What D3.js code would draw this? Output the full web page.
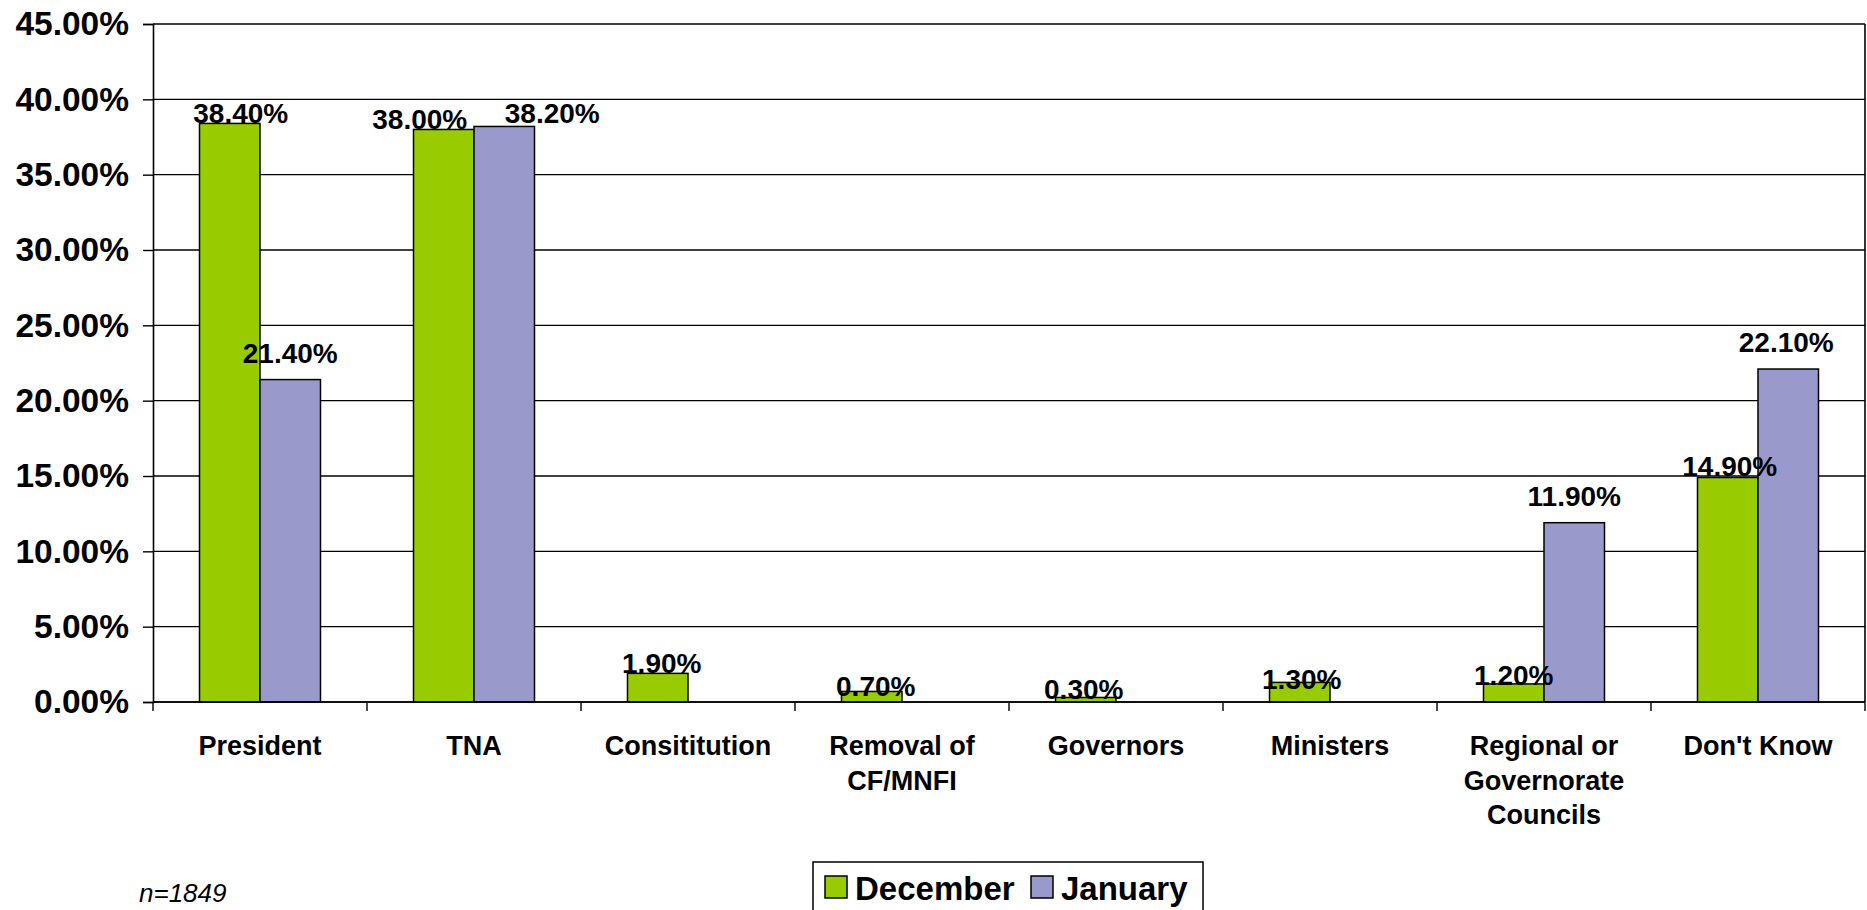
<!DOCTYPE html>
<html>
<head>
<meta charset="utf-8">
<script src="https://cdn.jsdelivr.net/npm/d3@7"></script>
<style>
  html, body { margin: 0; padding: 0; background: #fff; }
  svg { display: block; font-family: "Liberation Sans", Arial, sans-serif; }
</style>
</head>
<body>
<svg id="chart" width="1867" height="910"></svg>
<script>
// ---- data ----
const categories = ["President", "TNA", "Consititution", "Removal of CF/MNFI", "Governors", "Ministers", "Regional or Governorate Councils", "Don't Know"];
const seriesNames = ["December", "January"];
const december = [38.4, 38.0, 1.9, 0.7, 0.3, 1.3, 1.2, 14.9];
const january = [21.4, 38.2, null, null, null, null, 11.9, 22.1];
const yTicks = [0, 5, 10, 15, 20, 25, 30, 35, 40, 45];
const noteText = "n=1849";

// ---- layout / style ----
const colors = { December: "#99CC00", January: "#9999CC" };
const plot = { left: 153, top: 24, right: 1865, bottom: 702 };
// manual label nudges (dx, dy from bar top) as placed in the original
const nudgeDec = [[11, 0], [-24, 0], [4, 0], [4, 5], [-2, 1.5], [2, 7], [0, 1], [2, -2]];
const nudgeJan = [[0, -17], [48, -3], null, null, null, null, [0, -17], [-2, -17]];

const svg = d3.select("#chart");

const x0 = d3.scaleBand().domain(categories).range([plot.left, plot.right]).padding(0);
const x1 = d3.scaleBand().domain(seriesNames).range([0, x0.bandwidth()]).paddingInner(0).paddingOuter(0.7686);
const y = d3.scaleLinear().domain([0, 45]).range([plot.bottom, plot.top]);

// gridlines
svg.append("g").selectAll("line").data(yTicks).join("line")
  .attr("x1", plot.left).attr("x2", plot.right)
  .attr("y1", d => y(d)).attr("y2", d => y(d))
  .attr("stroke", "#000").attr("stroke-width", 1.4);

// right border
svg.append("line")
  .attr("x1", plot.right).attr("x2", plot.right)
  .attr("y1", plot.top).attr("y2", plot.bottom)
  .attr("stroke", "#000").attr("stroke-width", 1.6);

// y axis
const yAxis = d3.axisLeft(y).tickValues(yTicks).tickSize(10).tickPadding(14)
  .tickFormat(d => d3.format(".2f")(d) + "%");
const gy = svg.append("g").attr("transform", `translate(${plot.left},0)`).call(yAxis);
gy.select(".domain").attr("stroke", "#000").attr("stroke-width", 1.6);
gy.selectAll(".tick line").attr("stroke", "#000").attr("stroke-width", 1.4);
gy.selectAll(".tick text").attr("font-size", 33.5).attr("font-weight", "bold")
  .attr("font-family", "Liberation Sans, Arial, sans-serif").attr("fill", "#000");

// bars
const rows = categories.map((c, i) => ({ c, i, vals: [
  { s: "December", v: december[i], n: nudgeDec[i] },
  { s: "January", v: january[i], n: nudgeJan[i] }
]}));

const groups = svg.append("g").selectAll("g").data(rows).join("g")
  .attr("transform", d => `translate(${x0(d.c)},0)`);

groups.selectAll("rect").data(d => d.vals.filter(v => v.v != null)).join("rect")
  .attr("x", d => x1(d.s))
  .attr("width", x1.bandwidth())
  .attr("y", d => y(d.v))
  .attr("height", d => y(0) - y(d.v))
  .attr("fill", d => colors[d.s])
  .attr("stroke", "#000").attr("stroke-width", 1.5);

// x axis
const gx = svg.append("g").attr("transform", `translate(0,${plot.bottom})`);
gx.append("line").attr("x1", plot.left).attr("x2", plot.right)
  .attr("stroke", "#000").attr("stroke-width", 1.6);
const boundaries = categories.map(c => x0(c)).concat([plot.right]);
gx.selectAll("line.tk").data(boundaries).join("line").attr("class", "tk")
  .attr("x1", d => d).attr("x2", d => d).attr("y1", 0).attr("y2", 9)
  .attr("stroke", "#000").attr("stroke-width", 1.4);

function wrapWords(text, maxW, fontSize) {
  const words = text.split(" ");
  const ctx = document.createElement("canvas").getContext("2d");
  ctx.font = `bold ${fontSize}px "Liberation Sans", Arial, sans-serif`;
  const lines = [];
  let cur = "";
  words.forEach(w => {
    const t = cur ? cur + " " + w : w;
    if (ctx.measureText(t).width > maxW && cur) { lines.push(cur); cur = w; }
    else cur = t;
  });
  if (cur) lines.push(cur);
  return lines;
}

const catFs = 27;
gx.selectAll("text.cat").data(categories).join("text").attr("class", "cat")
  .attr("text-anchor", "middle")
  .attr("font-size", catFs).attr("font-weight", "bold").attr("fill", "#000")
  .each(function (c) {
    const lines = wrapWords(c, 200, catFs);
    const t = d3.select(this);
    lines.forEach((ln, k) => {
      t.append("tspan").attr("x", x0(c) + x0.bandwidth() / 2)
        .attr("y", 53 + k * 34.5).text(ln);
    });
  });

// data labels
groups.selectAll("text.lbl").data(d => d.vals.filter(v => v.v != null)).join("text")
  .attr("class", "lbl")
  .attr("text-anchor", "middle")
  .attr("x", d => x1(d.s) + x1.bandwidth() / 2 + d.n[0])
  .attr("y", d => y(d.v) + d.n[1])
  .attr("font-size", 28).attr("font-weight", "bold").attr("fill", "#000")
  .text(d => d3.format(".2f")(d.v) + "%");

// legend
const lg = svg.append("g").attr("transform", "translate(813,862)");
lg.append("rect").attr("x", 0).attr("y", 0).attr("width", 390).attr("height", 60)
  .attr("fill", "#fff").attr("stroke", "#000").attr("stroke-width", 1.5);
const legendPos = [{ s: "December", sx: 12, tx: 42 }, { s: "January", sx: 218, tx: 248 }];
legendPos.forEach(p => {
  lg.append("rect").attr("x", p.sx).attr("y", 14).attr("width", 22).attr("height", 22)
    .attr("fill", colors[p.s]).attr("stroke", "#000").attr("stroke-width", 1.5);
  lg.append("text").attr("x", p.tx).attr("y", 38).attr("font-size", 33)
    .attr("font-weight", "bold").attr("fill", "#000").text(p.s);
});

// note
svg.append("text").attr("x", 139).attr("y", 902).attr("font-size", 26)
  .attr("font-style", "italic").attr("fill", "#000").text(noteText);
</script>
</body>
</html>
